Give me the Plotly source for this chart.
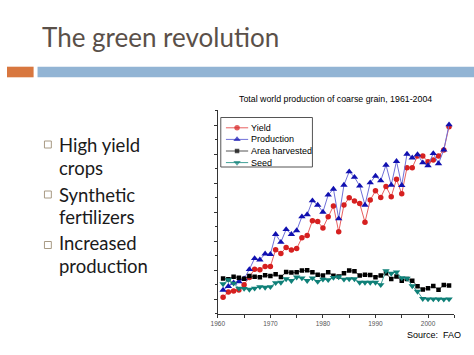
import plotly.graph_objects as go

W, H = 474, 355

years = list(range(1961, 2005))
yield_idx = [0.07, 0.25, 0.29, 0.32, 0.50, 0.75, 1.04, 1.02, 1.13, 1.13,
             1.71, 1.58, 1.79, 1.70, 1.75, 2.12, 2.20, 2.71, 2.68, 2.46,
             2.85, 3.22, 2.33, 3.25, 3.50, 3.39, 3.30, 2.66, 3.42, 3.74,
             3.51, 3.89, 3.54, 4.14, 3.64, 4.54, 4.54, 4.94, 4.94, 4.74,
             4.80, 4.94, 5.15, 5.95]
production = [0.32, 0.45, 0.57, 0.61, 0.71, 1.03, 1.41, 1.36, 1.57, 1.55,
              2.24, 1.97, 2.41, 2.24, 2.37, 2.85, 2.92, 3.40, 3.25, 3.01,
              3.60, 3.80, 2.78, 3.94, 4.40, 4.21, 3.91, 3.25, 4.02, 4.25,
              4.09, 4.63, 3.94, 4.76, 3.93, 5.01, 4.88, 4.99, 4.71, 4.61,
              5.03, 4.68, 5.15, 6.02]
area = [0.72, 0.69, 0.78, 0.74, 0.71, 0.80, 0.78, 0.76, 0.83, 0.80,
        0.86, 0.77, 0.94, 0.92, 0.93, 0.99, 1.00, 0.93, 0.85, 0.82,
        0.93, 0.81, 0.79, 0.90, 0.99, 0.97, 0.82, 0.85, 0.84, 0.76,
        0.82, 0.90, 0.70, 0.79, 0.64, 0.70, 0.64, 0.45, 0.34, 0.38,
        0.46, 0.33, 0.49, 0.48]
seed = [0.53, 0.67, 0.55, 0.38, 0.37, 0.34, 0.38, 0.43, 0.41, 0.43,
        0.57, 0.58, 0.70, 0.64, 0.76, 0.73, 0.64, 0.73, 0.61, 0.69,
        0.67, 0.75, 0.77, 0.69, 0.70, 0.70, 0.58, 0.58, 0.58, 0.58,
        0.50, 0.98, 0.89, 0.94, 0.74, 0.72, 0.46, 0.27, 0.02, 0.01,
        0.01, 0.01, 0.00, 0.01]

series_names = ["Yield", "Production", "Area harvested", "Seed"]
series_values = [yield_idx, production, area, seed]
marker_symbols = ["circle", "triangle-up", "square", "triangle-down"]
marker_colors = ["#d62020", "#1010b0", "#000000", "#0f8078"]
line_colors = ["#e86060", "#7070d8", "#555555", "#40a098"]
marker_sizes = [5.5, 6.5, 4.5, 6.5]

x_ticks = [1960, 1970, 1980, 1990, 2000]
bullets = [["High yield", "crops"], ["Synthetic", "fertilizers"], ["Increased", "production"]]

slide_title = "The green revolution"
chart_title = "Total world production of coarse grain, 1961-2004"
source_text = "Source:  FAO"


def px(x):
    return x / W


def py(y):
    return (H - y) / H


fig = go.Figure()

for name, vals, sym, mc, lc, ms in zip(series_names, series_values, marker_symbols,
                                       marker_colors, line_colors, marker_sizes):
    fig.add_trace(go.Scatter(
        x=years, y=vals, mode="lines+markers", name=name,
        line=dict(color=lc, width=1),
        marker=dict(symbol=sym, color=mc, size=ms, line=dict(width=0)),
        showlegend=False, xaxis="x", yaxis="y"))

# legend samples on a small overlay axis
for i, (name, sym, mc, lc, ms) in enumerate(zip(series_names, marker_symbols,
                                                 marker_colors, line_colors, marker_sizes)):
    fig.add_trace(go.Scatter(
        x=[0, 1, 2], y=[i, i, i], mode="lines+markers",
        line=dict(color=lc, width=1),
        marker=dict(symbol=sym, color=mc, size=[0, ms, 0], line=dict(width=0)),
        showlegend=False, xaxis="x2", yaxis="y2", hoverinfo="skip"))

annotations = []
for i, name in enumerate(series_names):
    annotations.append(dict(x=px(246), y=i, xref="paper", yref="y2", text=name,
                            showarrow=False, xanchor="left", yanchor="middle",
                            font=dict(family="Arial, Liberation Sans", size=9, color="#000")))

annotations.append(dict(x=px(333), y=py(99), xref="paper", yref="paper", text=chart_title,
                        showarrow=False, xanchor="center", yanchor="middle",
                        font=dict(family="Arial, Liberation Sans", size=8.8, color="#000")))
annotations.append(dict(x=px(404), y=py(335), xref="paper", yref="paper", text=source_text,
                        showarrow=False, xanchor="left", yanchor="middle",
                        font=dict(family="Arial, Liberation Sans", size=9, color="#000")))
annotations.append(dict(x=px(34), y=py(37), xref="paper", yref="paper", text=slide_title,
                        showarrow=False, xanchor="left", yanchor="middle",
                        font=dict(family="Lato", size=26, color="#5a5049")))

line_y = [[145, 168], [195, 217], [243, 266]]
shapes = []
bullet_tops = [141, 191, 241.5]
for item, ys, bt in zip(bullets, line_y, bullet_tops):
    for txt, yy in zip(item, ys):
        annotations.append(dict(x=px(51), y=py(yy), xref="paper", yref="paper", text=txt,
                                showarrow=False, xanchor="left", yanchor="middle",
                                font=dict(family="Lato", size=18.5, color="#1a1a1a")))
    shapes.append(dict(type="rect", xref="paper", yref="paper",
                       x0=px(38), x1=px(45), y0=py(bt + 7), y1=py(bt),
                       line=dict(color="#a89a84", width=1), fillcolor="rgba(0,0,0,0)"))

# title bars
shapes.append(dict(type="rect", xref="paper", yref="paper", x0=0, x1=px(27),
                   y0=py(77.3), y1=py(66.7), line=dict(width=0), fillcolor="#d8773f"))
shapes.append(dict(type="rect", xref="paper", yref="paper", x0=px(31), x1=1,
                   y0=py(77.3), y1=py(66.7), line=dict(width=0), fillcolor="#92b4d4"))
# legend box
shapes.append(dict(type="rect", xref="paper", yref="paper", x0=px(217), x1=px(310),
                   y0=py(167), y1=py(117.5), line=dict(color="#555555", width=1),
                   fillcolor="rgba(0,0,0,0)"))

fig.update_layout(
    width=W, height=H, margin=dict(l=0, r=0, t=0, b=0),
    paper_bgcolor="white", plot_bgcolor="white",
    xaxis=dict(domain=[px(214), px(454)], range=[1960, 2005], tickvals=x_ticks,
               ticks="outside", ticklen=3, tickcolor="#333", showgrid=False, zeroline=False,
               showline=True, linecolor="#333", linewidth=1,
               tickfont=dict(family="Arial, Liberation Sans", size=6.5, color="#555"),
               minor=dict(dtick=5, tick0=1960, ticks="outside", ticklen=3, tickcolor="#333")),
    yaxis=dict(domain=[py(314), py(110)], range=[-0.507, 6.527], dtick=1, tick0=0,
               ticks="outside", ticklen=3, tickcolor="#333", showticklabels=False,
               showgrid=False, zeroline=False, showline=True, linecolor="#333", linewidth=1,
               minor=dict(dtick=0.5, tick0=0, ticks="outside", ticklen=2, tickcolor="#333")),
    xaxis2=dict(domain=[px(222), px(245)], range=[0, 2], visible=False, anchor="y2"),
    yaxis2=dict(domain=[py(168.4), py(122)], range=[3.5, -0.5], visible=False, anchor="x2"),
    annotations=annotations, shapes=shapes,
)

post = (
    "document.documentElement.style.margin='0';"
    "document.documentElement.style.padding='0';"
    "document.body.style.margin='0';document.body.style.padding='0';"
    "document.body.style.overflow='hidden';"
    "var d=document.getElementsByClassName('plotly-graph-div')[0];"
    "d.style.position='absolute';d.style.left='0px';d.style.top='0px';"
)
fig.write_html("out.html", config={"displayModeBar": False}, post_script=post)
